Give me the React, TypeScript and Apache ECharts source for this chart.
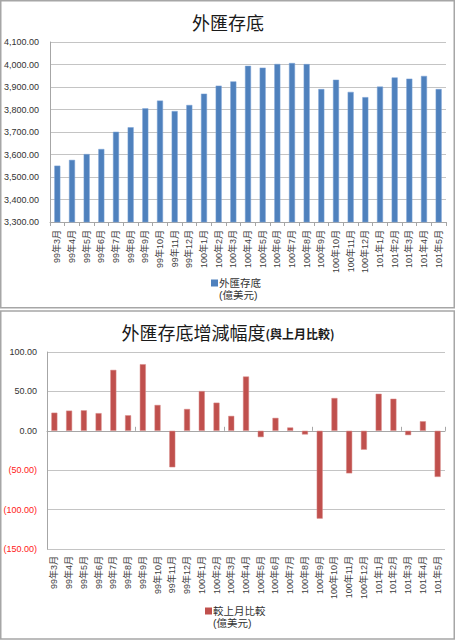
import React, { useEffect, useRef } from "react";
import * as echarts from "echarts";

const months: string[] = [
  "99年3月", "99年4月", "99年5月", "99年6月", "99年7月", "99年8月", "99年9月",
  "99年10月", "99年11月", "99年12月", "100年1月", "100年2月", "100年3月", "100年4月",
  "100年5月", "100年6月", "100年7月", "100年8月", "100年9月", "100年10月", "100年11月",
  "100年12月", "101年1月", "101年2月", "101年3月", "101年4月", "101年5月",
];

const reserves: number[] = [
  3550.4, 3576.1, 3602.0, 3624.4, 3701.0, 3721.1, 3805.3, 3839.6, 3793.0, 3820.1,
  3870.4, 3906.1, 3925.0, 3994.0, 3986.0, 4002.4, 4006.6, 4001.9, 3890.7, 3932.3,
  3878.3, 3854.9, 3901.8, 3942.5, 3937.1, 3949.2, 3890.6,
];

const changes: number[] = [
  23.0, 25.6, 26.0, 22.4, 77.3, 19.7, 84.5, 32.8, -46.3, 27.7,
  50.4, 35.7, 18.9, 68.9, -8.0, 16.4, 4.2, -4.7, -111.5, 41.6,
  -54.0, -24.0, 47.0, 40.7, -5.5, 12.1, -58.5,
];

const topTitle = "外匯存底";
const bottomTitleMain = "外匯存底增減幅度";
const bottomTitleSub = "(與上月比較)";
const seriesTop = "外匯存底";
const seriesBottom = "較上月比較";
const unit = "(億美元)";

const blue = "#4F81BD";
const red = "#C0504D";
const cjk = "'Noto Sans CJK TC', 'Noto Sans CJK SC', sans-serif";
const num = "'Liberation Sans', 'Noto Sans CJK TC', sans-serif";
const gridColor = "#c4c4c4";
const axisColor = "#a6a6a6";

function legendGroup(x: number, cy: number, color: string, name: string) {
  return {
    type: "group",
    silent: true,
    children: [
      {
        type: "rect",
        shape: { x, y: cy - 3.5, width: 7, height: 7 },
        style: { fill: color },
      },
      {
        type: "text",
        x: x + 8,
        y: cy - 6,
        style: {
          text: `${name}\n${unit}`,
          fontFamily: num,
          fontSize: 10.5,
          lineHeight: 12,
          fill: "#333",
          align: "left",
          verticalAlign: "top",
        },
      },
    ],
  };
}

export default function App() {
  const ref = useRef<HTMLDivElement>(null);
  useEffect(() => {
    if (!ref.current) return;
    const chart = echarts.init(ref.current, null, { renderer: "svg" });
    const xLabel = {
      rotate: 90,
      interval: 0,
      fontSize: 9,
      fontFamily: num,
      color: "#404040",
    };
    chart.setOption({
      animation: false,
      backgroundColor: "#ffffff",
      title: [
        {
          text: topTitle,
          left: "center",
          top: 8,
          textStyle: { fontFamily: cjk, fontSize: 18, fontWeight: "normal", color: "#1a1a1a" },
        },
        {
          text: `{a|${bottomTitleMain}}{b|${bottomTitleSub}}`,
          left: "center",
          top: 318,
          textStyle: {
            rich: {
              a: { fontFamily: cjk, fontSize: 18, fontWeight: "normal", color: "#1a1a1a", verticalAlign: "bottom" },
              b: { fontFamily: cjk, fontSize: 12, fontWeight: "bold", color: "#1a1a1a", verticalAlign: "bottom", padding: [0, 0, 1, 0] },
            },
          },
        },
      ],
      grid: [
        { left: 50, right: 10, top: 42, height: 180 },
        { left: 47, right: 11, top: 352, height: 197 },
      ],
      xAxis: [
        {
          type: "category",
          gridIndex: 0,
          data: months,
          axisLine: { lineStyle: { color: axisColor } },
          axisTick: { show: true, length: 4, lineStyle: { color: axisColor } },
          axisLabel: { ...xLabel, margin: 8 },
        },
        {
          type: "category",
          gridIndex: 1,
          data: months,
          position: "bottom",
          axisLine: { show: false, onZero: false },
          axisTick: { show: false },
          axisLabel: { ...xLabel, margin: 7 },
        },
        {
          type: "category",
          gridIndex: 1,
          data: months,
          position: "bottom",
          axisLine: { show: true, onZero: true, lineStyle: { color: axisColor } },
          axisTick: { show: true, inside: true, length: 4, lineStyle: { color: axisColor } },
          axisLabel: { show: false },
        },
      ],
      yAxis: [
        {
          type: "value",
          gridIndex: 0,
          min: 3300,
          max: 4100,
          interval: 100,
          axisLine: { show: true, lineStyle: { color: axisColor } },
          axisTick: { show: false },
          splitLine: { lineStyle: { color: gridColor } },
          axisLabel: {
            margin: 11,
            fontSize: 9,
            fontFamily: num,
            color: "#333",
            formatter: (v: number) =>
              v.toLocaleString("en-US", { minimumFractionDigits: 2, maximumFractionDigits: 2 }),
          },
        },
        {
          type: "value",
          gridIndex: 1,
          min: -150,
          max: 100,
          interval: 50,
          axisLine: { show: true, lineStyle: { color: axisColor } },
          axisTick: { show: false },
          splitLine: { lineStyle: { color: gridColor } },
          axisLabel: {
            margin: 10,
            fontSize: 9,
            fontFamily: num,
            formatter: (v: number) =>
              v < 0 ? `{neg|(${Math.abs(v).toFixed(2)})}` : `{pos|${v.toFixed(2)}}`,
            rich: {
              neg: { color: "#ff2020", fontSize: 9, fontFamily: num },
              pos: { color: "#333", fontSize: 9, fontFamily: num },
            },
          },
        },
      ],
      series: [
        {
          name: seriesTop,
          type: "bar",
          xAxisIndex: 0,
          yAxisIndex: 0,
          data: reserves,
          barWidth: 6,
          itemStyle: { color: blue, borderColor: "#7aa3d6", borderWidth: 0.5 },
        },
        {
          name: seriesBottom,
          type: "bar",
          xAxisIndex: 1,
          yAxisIndex: 1,
          data: changes,
          barWidth: 6,
          itemStyle: { color: red, borderColor: "#d88a88", borderWidth: 0.5 },
        },
      ],
      graphic: [
        {
          type: "rect",
          shape: { x: 0.75, y: 0.75, width: 453.5, height: 307 },
          style: { fill: "none", stroke: "#a6a6a6", lineWidth: 1.5 },
          silent: true,
        },
        {
          type: "rect",
          shape: { x: 0.75, y: 311, width: 453.5, height: 328 },
          style: { fill: "none", stroke: "#a6a6a6", lineWidth: 1.5 },
          silent: true,
        },
        legendGroup(211, 283, blue, seriesTop),
        legendGroup(205, 611, red, seriesBottom),
      ],
    });
    return () => chart.dispose();
  }, []);
  return (
    <div
      ref={ref}
      style={{ position: "absolute", left: 0, top: 0, width: 456, height: 640 }}
    />
  );
}
